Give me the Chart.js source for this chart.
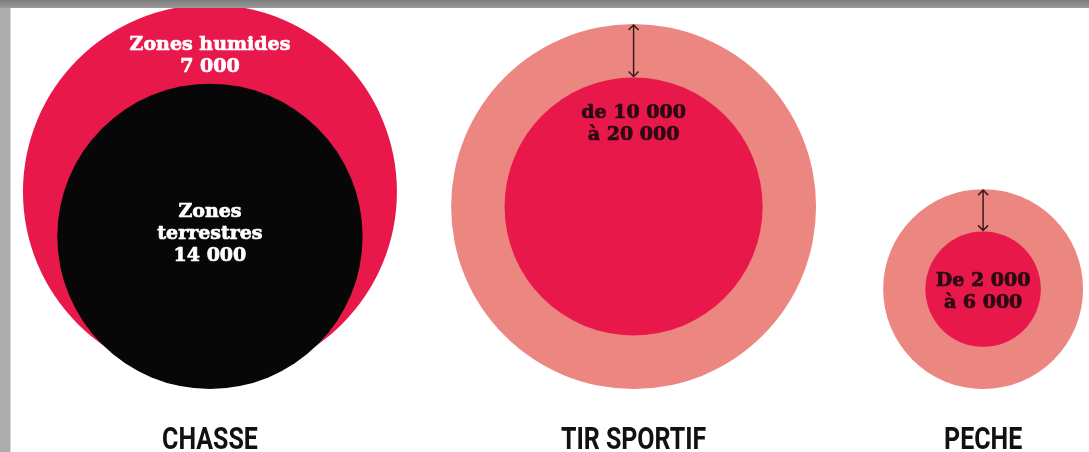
<!DOCTYPE html>
<html lang="fr">
<head>
<meta charset="utf-8">
<title>Chasse, tir sportif, pêche</title>
<script src="https://cdn.jsdelivr.net/npm/chart.js@4.4.1/dist/chart.umd.min.js"></script>
<style>
  html, body { margin: 0; padding: 0; background: #fff; }
  canvas { display: block; }
</style>
</head>
<body>
<canvas id="chart" width="1089" height="452"></canvas>
<script>
// ─── Data ─────────────────────────────────────────────────────────────────────

const categories  = ['CHASSE', 'TIR SPORTIF', 'PECHE'];
const innerValues = [14000, 10000, 2000];   // terrestres / lower bound
const outerValues = [21000, 20000, 6000];   // 14 000 + 7 000 humides / upper bound
const innerLabels = [['Zones', 'terrestres', '14 000'], ['de 10 000', 'à 20 000'], ['De 2 000', 'à 6 000']];
const outerLabels = [['Zones humides', '7 000'], [], []];

// ─── Layout (axis units: radius = sqrt(value)) ──────────────────────────────

const X_MAX = 844, Y_MIN = -48.8, Y_MAX = 301.5;
const LEFT_MARGIN = 17.8;
const GAPS        = [42, 52];
const CHASSE_LIFT = 8;
const LABEL_Y     = -46.5;
const LINE        = 22;

const RED    = '#e8184a';
const SALMON = '#ec8680';
const INK    = '#2b0a12';

const outerColours = [RED, SALMON, SALMON];
const innerColours = ['#070707', RED, RED];
const innerTextColours = ['#ffffff', INK, INK];
const innerTextAnchor  = [{ from: 'centre', dy: -19 }, { from: 'top', dy: 40 }, { from: 'centre', dy: -3 }];

const r = v => Math.sqrt(v);

const centresX = [];
categories.forEach((_, i) => {
  centresX.push(i === 0
    ? LEFT_MARGIN + r(outerValues[0])
    : centresX[i - 1] + r(outerValues[i - 1]) + GAPS[i - 1] + r(outerValues[i]));
});

const outerPoints = categories.map((_, i) => ({
  x: centresX[i], y: r(outerValues[i]) + (i === 0 ? CHASSE_LIFT : 0), v: outerValues[i],
}));
const innerPoints = categories.map((_, i) => ({
  x: centresX[i], y: i === 0 ? r(innerValues[i]) : outerPoints[i].y, v: innerValues[i],
}));

// radius in pixels, taken from the x scale so area follows the value
function radiusPx(chart, value) {
  const x = chart.scales.x;
  return x.getPixelForValue(r(value)) - x.getPixelForValue(0);
}

// ─── Plugins ──────────────────────────────────────────────────────────────────

const framePlugin = {
  id: 'frame',
  beforeDraw(chart) {
    const { ctx, width, height } = chart;
    ctx.save();
    ctx.fillStyle = '#fff';
    ctx.fillRect(0, 0, width, height);
    ctx.restore();
  },
  afterDraw(chart) {
    const { ctx, width, height } = chart;
    ctx.save();
    ctx.fillStyle = '#adadad';
    ctx.fillRect(0, 0, 10, height);
    ctx.fillStyle = '#d8d8d8';
    ctx.fillRect(10, 0, 1, height);
    const g = ctx.createLinearGradient(0, 0, 0, 8);
    g.addColorStop(0, '#7c7c7c');
    g.addColorStop(1, '#9a9a9a');
    ctx.fillStyle = g;
    ctx.fillRect(0, 0, width, 8);
    ctx.restore();
  },
};

function drawArrow(ctx, x, y1, y2) {
  const h = 5;
  ctx.beginPath();
  ctx.moveTo(x, y1); ctx.lineTo(x, y2);
  ctx.moveTo(x - h, y1 + h); ctx.lineTo(x, y1); ctx.lineTo(x + h, y1 + h);
  ctx.moveTo(x - h, y2 - h); ctx.lineTo(x, y2); ctx.lineTo(x + h, y2 - h);
  ctx.stroke();
}

// heavy slab text: fill plus a thin stroke of the same colour
function drawLines(ctx, lines, x, y0, colour) {
  ctx.fillStyle = colour;
  ctx.strokeStyle = colour;
  ctx.lineWidth = 0.7;
  ctx.lineJoin = 'round';
  lines.forEach((t, k) => {
    ctx.fillText(t, x, y0 + k * LINE);
    ctx.strokeText(t, x, y0 + k * LINE);
  });
}

const labelPlugin = {
  id: 'circleLabels',
  afterDatasetsDraw(chart) {
    const { ctx, scales: { y } } = chart;
    const inner = chart.getDatasetMeta(0).data;
    const outer = chart.getDatasetMeta(1).data;
    ctx.save();
    ctx.textAlign = 'center';
    ctx.textBaseline = 'alphabetic';

    categories.forEach((cat, i) => {
      const o = outer[i], n = inner[i];
      const oR = o.options.radius, nR = n.options.radius;

      // gap arrow between the two discs
      if (i > 0) {
        ctx.strokeStyle = '#3a1c1c';
        ctx.lineWidth = 1.5;
        drawArrow(ctx, n.x, o.y - oR + 1, n.y - nR - 1);
      }

      ctx.font = 'bold 19px "DejaVu Serif"';
      drawLines(ctx, outerLabels[i], o.x, o.y - oR + 45, '#ffffff');

      const a = innerTextAnchor[i];
      const base = a.from === 'top' ? n.y - nR : n.y;
      drawLines(ctx, innerLabels[i], n.x, base + a.dy, innerTextColours[i]);

      // category name under each group (condensed capitals)
      ctx.save();
      ctx.translate(o.x, y.getPixelForValue(LABEL_Y));
      ctx.scale(0.78, 1);
      ctx.font = 'bold 32px Roboto, "DejaVu Sans", sans-serif';
      ctx.fillStyle = '#111';
      ctx.fillText(cat, 0, 0);
      ctx.restore();
    });
    ctx.restore();
  },
};

// ─── Chart ────────────────────────────────────────────────────────────────────

new Chart(document.getElementById('chart'), {
  type: 'scatter',
  data: {
    datasets: [
      {
        label: 'bas',
        data: innerPoints,
        order: 0,
        clip: false,
        pointBackgroundColor: innerColours,
        pointBorderWidth: 0,
        pointRadius: c => radiusPx(c.chart, c.raw.v),
        pointHoverRadius: c => radiusPx(c.chart, c.raw.v),
      },
      {
        label: 'haut',
        data: outerPoints,
        order: 1,
        clip: false,
        pointBackgroundColor: outerColours,
        pointBorderWidth: 0,
        pointRadius: c => radiusPx(c.chart, c.raw.v),
        pointHoverRadius: c => radiusPx(c.chart, c.raw.v),
      },
    ],
  },
  options: {
    responsive: false,
    animation: false,
    events: [],
    layout: { padding: 0 },
    plugins: {
      legend: { display: false },
      tooltip: { enabled: false },
    },
    scales: {
      x: { type: 'linear', min: 0, max: X_MAX, display: false },
      y: { type: 'linear', min: Y_MIN, max: Y_MAX, display: false },
    },
  },
  plugins: [framePlugin, labelPlugin],
});
</script>
</body>
</html>
